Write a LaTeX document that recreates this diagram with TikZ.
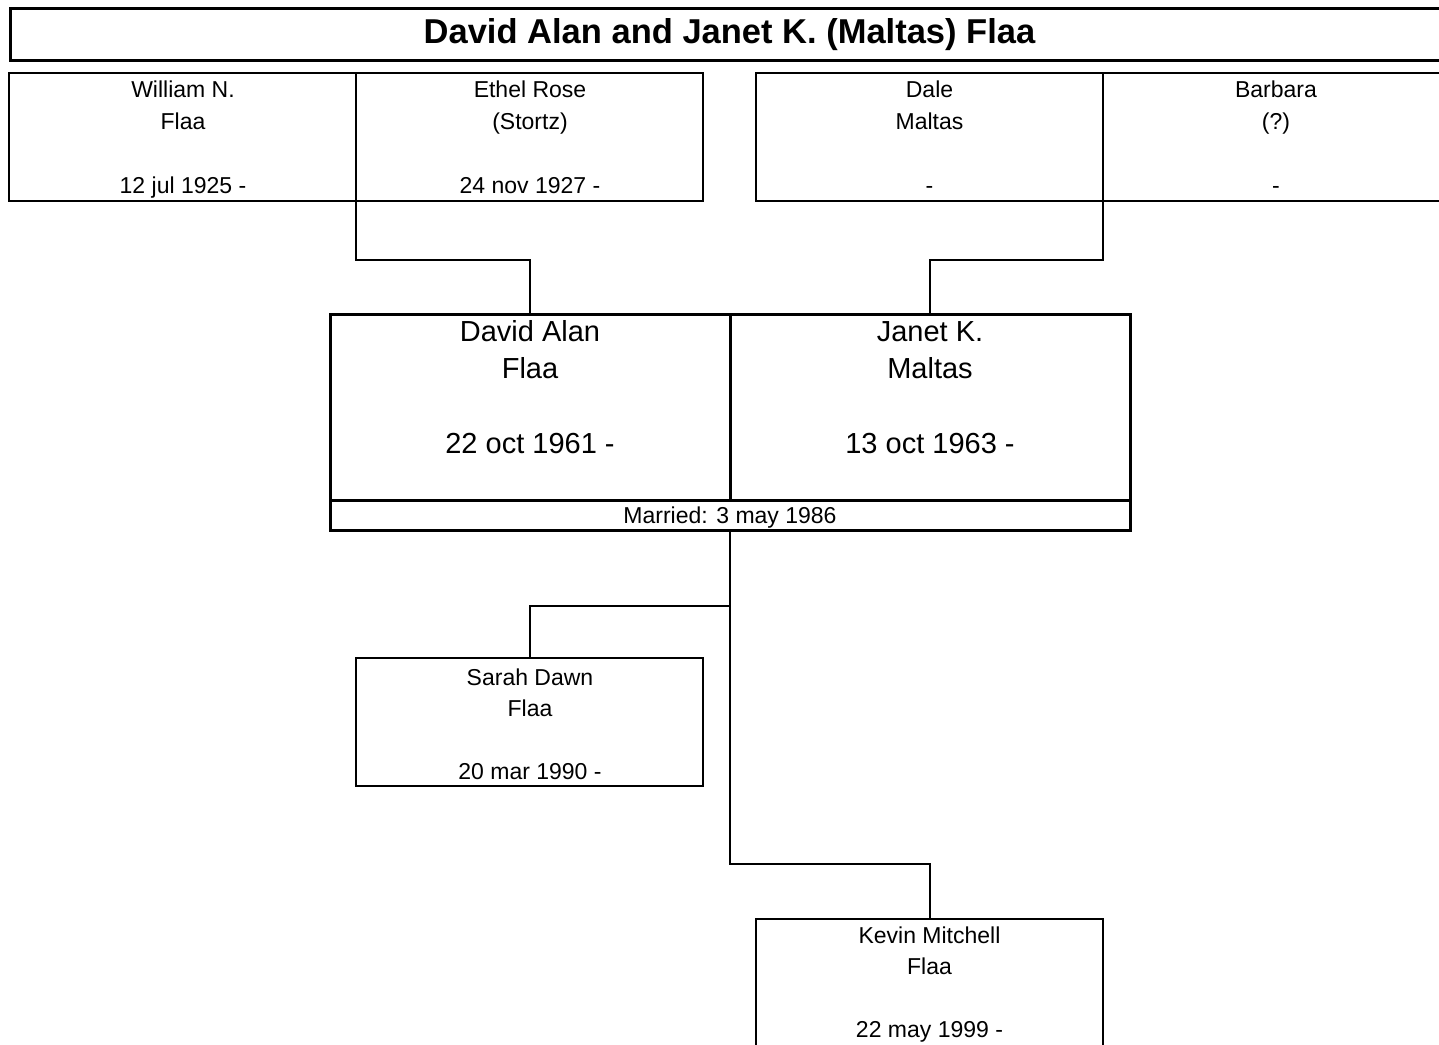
\documentclass[tikz,border=0pt]{standalone}
\usepackage{fontspec}
\setmainfont{Liberation Sans}
\begin{document}
\begin{tikzpicture}[x=1pt,y=-1pt,
  thinbox/.style={draw, line width=1.5pt, rectangle, inner sep=0pt, outer sep=0pt, anchor=north west, minimum width=347pt, minimum height=128pt},
  thickbox/.style={draw, line width=3pt, rectangle, inner sep=0pt, outer sep=0pt, anchor=north west},
  conn/.style={draw, line width=2pt},
  small/.style={anchor=base, inner sep=0pt, font=\fontsize{23}{28}\selectfont},
  big/.style={anchor=base, inner sep=0pt, font=\fontsize{29}{34}\selectfont},
  ttl/.style={anchor=base, inner sep=0pt, font=\fontsize{34.5}{40}\selectfont\bfseries}]
\path[use as bounding box] (0,0) rectangle (1439,1044);
\clip (0,0) rectangle (1439,1044);
\fill[white] (0,0) rectangle (1439,1044);

% title
\node[thickbox, minimum width=1439pt, minimum height=52pt] (title) at (10,8) {};
\node[ttl] (titletext) at (729.5,43) {David Alan and Janet K. (Maltas) Flaa};

% grandparents
\node[thinbox] (will) at (9,73) {};
\node[thinbox] (ethel) at (356,73) {};
\node[thinbox] (dale) at (756,73) {};
\node[thinbox] (barb) at (1103,73) {};

\node[small] (will1) at (183,97) {William N.};
\node[small] (will2) at (183,129) {Flaa};
\node[small] (will3) at (183,193) {12 jul 1925 -};
\node[small] (ethel1) at (530,97) {Ethel Rose};
\node[small] (ethel2) at (530,129) {(Stortz)};
\node[small] (ethel3) at (530,193) {24 nov 1927 -};
\node[small] (dale1) at (929.5,97) {Dale};
\node[small] (dale2) at (929.5,129) {Maltas};
\node[small] (dale3) at (929.5,193) {-};
\node[small] (barb1) at (1276,97) {Barbara};
\node[small] (barb2) at (1276,129) {(?)};
\node[small] (barb3) at (1276,193) {-};

% couple
\node[thickbox, minimum width=400pt, minimum height=186pt] (david) at (330,314) {};
\node[thickbox, minimum width=400pt, minimum height=186pt] (janet) at (730,314) {};
\node[thickbox, minimum width=800pt, minimum height=30pt] (married) at (330,500) {};

\node[big] (david1) at (530,341) {David Alan};
\node[big] (david2) at (530,378) {Flaa};
\node[big] (david3) at (530,453) {22 oct 1961 -};
\node[big] (janet1) at (930,341) {Janet K.};
\node[big] (janet2) at (930,378) {Maltas};
\node[big] (janet3) at (930,453) {13 oct 1963 -};
\node[small] (marriedtext) at (730,523) {Married: 3 may 1986};

% children
\node[thinbox, line width=2pt] (sarah) at (356,658) {};
\node[thinbox, line width=2pt, minimum height=140pt] (kevin) at (756,919) {};

\node[small] (sarah1) at (530,685) {Sarah Dawn};
\node[small] (sarah2) at (530,716) {Flaa};
\node[small] (sarah3) at (530,779) {20 mar 1990 -};
\node[small] (kevin1) at (929.5,943) {Kevin Mitchell};
\node[small] (kevin2) at (929.5,974) {Flaa};
\node[small] (kevin3) at (929.5,1037) {22 may 1999 -};

% connectors
\draw[conn] (will.north east) -- ++(0,187) -| (david.north);
\draw[conn] (dale.north east) -- ++(0,187) -| (janet.north);
\draw[conn] (married.south) -- ++(0,76) -| (sarah.north);
\draw[conn] (married.south) -- ++(0,334) -| (kevin.north);
\end{tikzpicture}
\end{document}
